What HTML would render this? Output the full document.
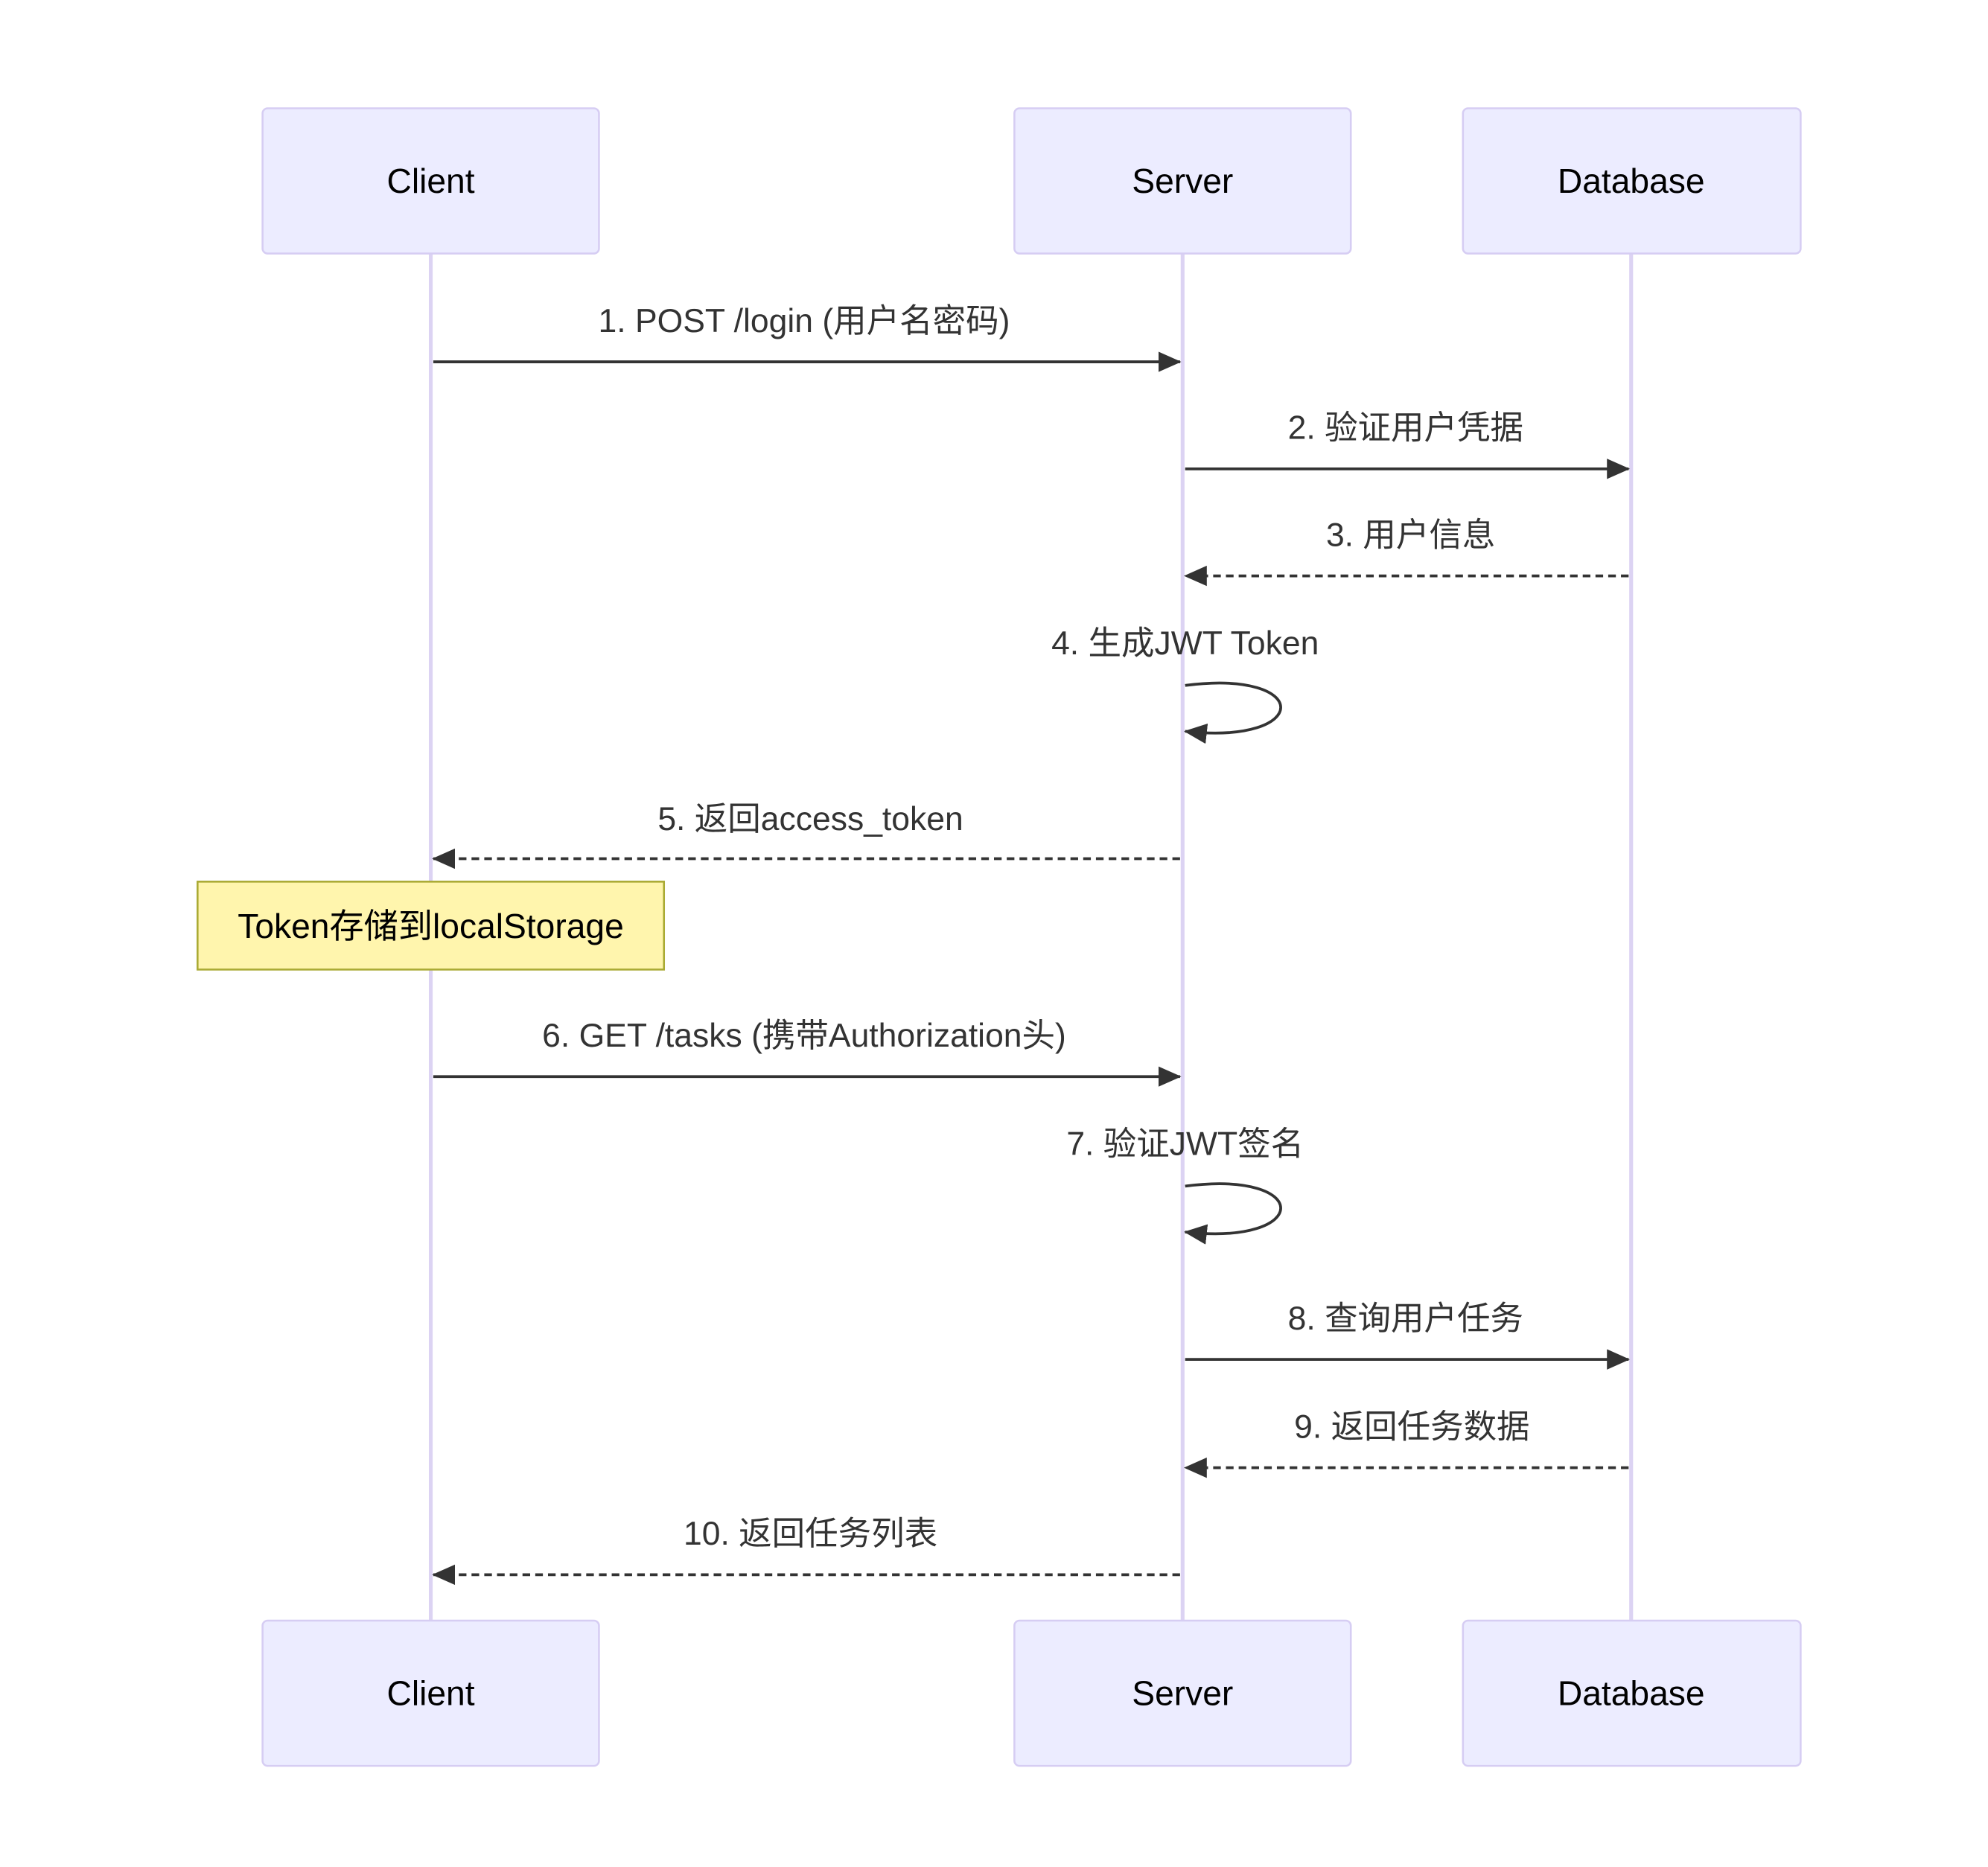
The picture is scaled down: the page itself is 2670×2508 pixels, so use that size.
<!DOCTYPE html>
<html><head><meta charset="utf-8"><style>
html,body{margin:0;padding:0;background:#fff;}
svg{display:block;}
text{font-family:"Liberation Sans","Noto Sans CJK SC",sans-serif;}
</style></head><body>
<svg width="2670" height="2508" viewBox="0 0 1560 1465.4" xmlns="http://www.w3.org/2000/svg">
<defs>
<marker id="ah" viewBox="0 0 12 10" refX="11" refY="5" markerWidth="12" markerHeight="10" markerUnits="userSpaceOnUse" orient="auto">
<path d="M0,0 L12,5 L0,10 z" fill="#333"/>
</marker>
<marker id="ahb" viewBox="0 0 18 16" refX="17" refY="8" markerWidth="18" markerHeight="16" markerUnits="userSpaceOnUse" orient="auto">
<path d="M0,0 L18,8 L0,16 z" fill="#333"/>
</marker>
</defs>
<g stroke="#dcd3f3" stroke-width="3">
<line x1="338" y1="199" x2="338" y2="1272"/>
<line x1="928" y1="199" x2="928" y2="1272"/>
<line x1="1280" y1="199" x2="1280" y2="1272"/>
</g>
<g fill="#ececff" stroke="#d6cdf3" stroke-width="1.5">
<rect x="206" y="85" width="264" height="114" rx="4"/>
<rect x="796" y="85" width="264" height="114" rx="4"/>
<rect x="1148" y="85" width="265" height="114" rx="4"/>
<rect x="206" y="1272" width="264" height="114" rx="4"/>
<rect x="796" y="1272" width="264" height="114" rx="4"/>
<rect x="1148" y="1272" width="265" height="114" rx="4"/>
</g>
<g font-size="27" fill="#000" text-anchor="middle" dominant-baseline="central">
<text x="338" y="142">Client</text>
<text x="928" y="142">Server</text>
<text x="1280" y="142">Database</text>
<text x="338" y="1329">Client</text>
<text x="928" y="1329">Server</text>
<text x="1280" y="1329">Database</text>
</g>
<rect x="155" y="692" width="366" height="69" fill="#fff5ad" stroke="#aaaa33" stroke-width="1.5"/>
<text x="338" y="727" font-size="27" text-anchor="middle" dominant-baseline="central" fill="#000">Token存储到localStorage</text>
<g stroke="#333" stroke-width="2.2" fill="none">
<line x1="340" y1="284" x2="926" y2="284" marker-end="url(#ahb)"/>
<line x1="930" y1="368" x2="1278" y2="368" marker-end="url(#ahb)"/>
<line x1="1278" y1="452" x2="930" y2="452" stroke-dasharray="6,4" marker-end="url(#ahb)"/>
<path d="M930,538 C1030,525 1030,585 930,574" marker-end="url(#ahb)"/>
<line x1="926" y1="674" x2="340" y2="674" stroke-dasharray="6,4" marker-end="url(#ahb)"/>
<line x1="340" y1="845" x2="926" y2="845" marker-end="url(#ahb)"/>
<path d="M930,931 C1030,918 1030,978 930,967" marker-end="url(#ahb)"/>
<line x1="930" y1="1067" x2="1278" y2="1067" marker-end="url(#ahb)"/>
<line x1="1278" y1="1152" x2="930" y2="1152" stroke-dasharray="6,4" marker-end="url(#ahb)"/>
<line x1="926" y1="1236" x2="340" y2="1236" stroke-dasharray="6,4" marker-end="url(#ahb)"/>
</g>
<g font-size="26" fill="#333" text-anchor="middle" dominant-baseline="central">
<text x="631" y="252">1. POST /login (用户名密码)</text>
<text x="1103" y="336">2. 验证用户凭据</text>
<text x="1107" y="420">3. 用户信息</text>
<text x="930" y="505">4. 生成JWT Token</text>
<text x="636" y="643">5. 返回access_token</text>
<text x="631" y="813">6. GET /tasks (携带Authorization头)</text>
<text x="930" y="898">7. 验证JWT签名</text>
<text x="1103" y="1035">8. 查询用户任务</text>
<text x="1108" y="1120">9. 返回任务数据</text>
<text x="636" y="1204">10. 返回任务列表</text>
</g>
</svg>
</body></html>
